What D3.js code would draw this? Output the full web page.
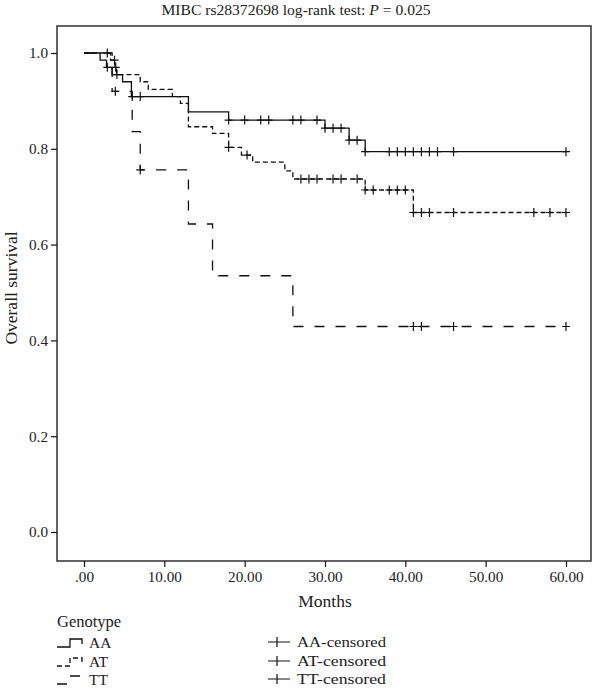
<!DOCTYPE html>
<html>
<head>
<meta charset="utf-8">
<script src="https://cdn.jsdelivr.net/npm/d3@7"></script>
<style>
  html, body { margin: 0; padding: 0; background: #fff; }
  svg { display: block; }
  text { font-family: "Liberation Serif", "DejaVu Serif", serif; fill: #222; }
</style>
</head>
<body>
<svg id="chart" width="592" height="689"></svg>
<script>
// ---------- data ----------
const title = "MIBC rs28372698 log-rank test: ";
const xTickValues = [0, 10, 20, 30, 40, 50, 60];
const xTickLabels = [".00", "10.00", "20.00", "30.00", "40.00", "50.00", "60.00"];
const yTickValues = [0, 0.2, 0.4, 0.6, 0.8, 1.0];
const yTickLabels = ["0.0", "0.2", "0.4", "0.6", "0.8", "1.0"];
const groups = ["AA", "AT", "TT"];

const aaTimes = [0, 2, 2.8, 3.5, 4.8, 5.9, 13, 18, 30, 33, 35];
const aaSurv  = [1.0, 0.985, 0.97, 0.955, 0.94, 0.909, 0.877, 0.860, 0.843, 0.818, 0.794];
const aaCensored = [2.9, 6, 7, 18, 20, 22, 23, 26, 27, 29, 30, 31, 32, 33, 34, 35, 38, 39, 40, 41, 42, 43, 44, 46, 60];

const atTimes = [0, 3.3, 3.85, 4.05, 7, 8, 11, 12, 13, 16, 18, 19.6, 21, 25, 26, 35, 41];
const atSurv  = [1.0, 0.985, 0.97, 0.955, 0.94, 0.924, 0.909, 0.895, 0.846, 0.832, 0.803, 0.787, 0.772, 0.754, 0.737, 0.714, 0.667];
const atCensored = [2.9, 3.8, 3.95, 4.1, 18, 20.3, 27, 28, 29, 31, 32, 34, 35, 36, 38, 39, 40, 41, 42, 43, 46, 56, 58, 60];

const ttTimes = [0, 3.5, 6, 7, 13, 16, 26];
const ttSurv  = [1.0, 0.92, 0.836, 0.756, 0.643, 0.535, 0.429];
const ttCensored = [3.9, 7, 41, 42, 46, 60];

const maxMonth = 60;

// ---------- layout ----------
const frame = { left: 57, top: 26, right: 591, bottom: 561 };
const svg = d3.select("#chart");

const x = d3.scaleLinear().domain([0, 60]).range([84, 566]);
const y = d3.scaleLinear().domain([0, 1]).range([532, 53]);

const styles = {
  AA: { dash: null },
  AT: { dash: "5,3" },
  TT: { dash: "10,11" }
};

const series = [
  { name: "AA", times: aaTimes, surv: aaSurv, cens: aaCensored },
  { name: "AT", times: atTimes, surv: atSurv, cens: atCensored },
  { name: "TT", times: ttTimes, surv: ttSurv, cens: ttCensored }
];

// title
const t = svg.append("text").attr("x", 296).attr("y", 15)
  .attr("text-anchor", "middle").style("font-size", "15.6px");
t.append("tspan").text(title);
t.append("tspan").style("font-style", "italic").text("P");
t.append("tspan").text(" = 0.025");

// frame
svg.append("rect")
  .attr("x", frame.left).attr("y", frame.top)
  .attr("width", frame.right - frame.left).attr("height", frame.bottom - frame.top)
  .attr("fill", "none").attr("stroke", "#111").attr("stroke-width", 1.3);

// axes
const xAxis = d3.axisBottom(x).tickValues(xTickValues)
  .tickFormat((d, i) => xTickLabels[i]).tickSize(6).tickPadding(4);
const gx = svg.append("g").attr("transform", `translate(0,${frame.bottom})`).call(xAxis);
gx.select(".domain").remove();
gx.selectAll("line").attr("stroke", "#111").attr("stroke-width", 1.2);
gx.selectAll("text").style("font-size", "15.2px").style("font-family", "Liberation Serif, serif").attr("fill", "#222");

const yAxis = d3.axisLeft(y).tickValues(yTickValues)
  .tickFormat((d, i) => yTickLabels[i]).tickSize(6).tickPadding(3);
const gy = svg.append("g").attr("transform", `translate(${frame.left},0)`).call(yAxis);
gy.select(".domain").remove();
gy.selectAll("line").attr("stroke", "#111").attr("stroke-width", 1.2);
gy.selectAll("text").style("font-size", "15.2px").style("font-family", "Liberation Serif, serif").attr("fill", "#222");

// axis titles
svg.append("text").attr("x", 325).attr("y", 607).attr("text-anchor", "middle")
  .style("font-size", "17.5px").text("Months");
svg.append("text").attr("transform", "translate(17,288) rotate(-90)")
  .attr("text-anchor", "middle").style("font-size", "17.5px").text("Overall survival");

// curves
const line = d3.line().x(d => x(d[0])).y(d => y(d[1])).curve(d3.curveStepAfter);
function survAt(s, tm) {
  const i = d3.bisectRight(s.times, tm) - 1;
  return s.surv[Math.max(0, i)];
}
series.forEach(s => {
  const pts = s.times.map((tm, i) => [tm, s.surv[i]]);
  pts.push([maxMonth, s.surv[s.surv.length - 1]]);
  svg.append("path").attr("d", line(pts))
    .attr("fill", "none").attr("stroke", "#111").attr("stroke-width", 1.3)
    .attr("stroke-dasharray", styles[s.name].dash);
  const g = svg.append("g");
  s.cens.forEach(tm => {
    const cx = x(tm), cy = y(survAt(s, tm));
    g.append("path").attr("d", `M${cx - 4},${cy}H${cx + 4}M${cx},${cy - 4.5}V${cy + 4.5}`)
      .attr("stroke", "#111").attr("stroke-width", 1.2).attr("fill", "none");
  });
});

// legend
svg.append("text").attr("x", 57).attr("y", 627).style("font-size", "16.5px").text("Genotype");
const legRows = [643, 662, 680];
groups.forEach((gname, i) => {
  const cy = legRows[i];
  svg.append("path").attr("d", `M57,${cy + 4}H70V${cy - 4}H82V${cy + 1}`)
    .attr("fill", "none").attr("stroke", "#111").attr("stroke-width", 1.3)
    .attr("stroke-dasharray", styles[gname].dash);
  svg.append("text").attr("x", 89).attr("y", cy + 4.5).style("font-size", "15.5px").text(gname);
  const lx = 268;
  svg.append("path").attr("d", `M${lx},${cy - 1}H${lx + 22}M${lx + 9},${cy - 6}V${cy + 4}`)
    .attr("fill", "none").attr("stroke", "#111").attr("stroke-width", 1.2);
  svg.append("text").attr("x", 297).attr("y", cy + 4).style("font-size", "15.5px")
    .attr("textLength", 89).attr("lengthAdjust", "spacingAndGlyphs").text(gname + "-censored");
});
</script>
</body>
</html>
